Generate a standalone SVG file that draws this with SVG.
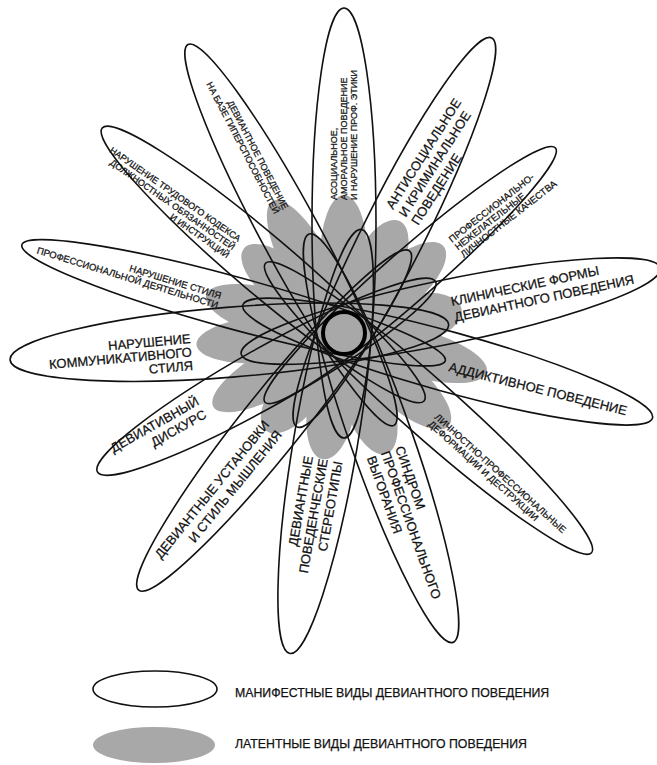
<svg xmlns="http://www.w3.org/2000/svg" width="657" height="765" viewBox="0 0 657 765">
<style>
.bg{fill:#ffffff}
.lat{fill:#a8a8a8;stroke:none}
.man{fill:none;stroke:#111;stroke-width:1.6}
.t{font-family:"Liberation Sans",Arial,sans-serif;fill:#111;stroke:#111;stroke-width:0.25}
.s{font-size:9.5px}
.xs{font-size:9px}
.l{font-size:13px}
.e{text-anchor:end}
</style>
<rect class="bg" x="0" y="0" width="657" height="765"/>
<g id="latent-core" transform="translate(344,333)">
  <circle class="lat" cx="0" cy="0" r="88"/>
  <ellipse class="lat" transform="rotate(-90)" cx="75" cy="0" rx="63" ry="24"/>
  <ellipse class="lat" transform="rotate(-63.4)" cx="75" cy="0" rx="50" ry="24"/>
  <ellipse class="lat" transform="rotate(-41.2)" cx="75" cy="0" rx="57" ry="24"/>
  <ellipse class="lat" transform="rotate(-11.6)" cx="75" cy="0" rx="45" ry="24"/>
  <ellipse class="lat" transform="rotate(15.4)" cx="75" cy="0" rx="73" ry="24"/>
  <ellipse class="lat" transform="rotate(41.6)" cx="75" cy="0" rx="65" ry="24"/>
  <ellipse class="lat" transform="rotate(70.6)" cx="75" cy="0" rx="53" ry="24"/>
  <ellipse class="lat" transform="rotate(99.6)" cx="75" cy="0" rx="53" ry="24"/>
  <ellipse class="lat" transform="rotate(128.6)" cx="75" cy="0" rx="50" ry="24"/>
  <ellipse class="lat" transform="rotate(150.6)" cx="75" cy="0" rx="75" ry="24"/>
  <ellipse class="lat" transform="rotate(175.4)" cx="75" cy="0" rx="73" ry="24"/>
  <ellipse class="lat" transform="rotate(-164.7)" cx="75" cy="0" rx="68" ry="24"/>
  <ellipse class="lat" transform="rotate(-139.7)" cx="75" cy="0" rx="56" ry="24"/>
  <ellipse class="lat" transform="rotate(-118.4)" cx="75" cy="0" rx="75" ry="24"/>
</g>

<g id="p1-asocial">
  <ellipse class="man" transform="translate(344,333) rotate(-90)" cx="110" cy="0" rx="215" ry="32"/>
  <text class="t xs" transform="translate(337,200) rotate(-90)"><tspan x="0" y="0">АСОЦИАЛЬНОЕ,</tspan><tspan x="0" dy="10">АМОРАЛЬНОЕ ПОВЕДЕНИЕ</tspan><tspan x="0" dy="10">И НАРУШЕНИЕ ПРОФ. ЭТИКИ</tspan></text>
</g>
<g id="p2-antisocial">
  <ellipse class="man" transform="translate(344,333) rotate(-63.4)" cx="112.5" cy="0" rx="217.5" ry="31"/>
  <text class="t l" transform="translate(393,210) rotate(-57.5)"><tspan x="0" y="0">АНТИСОЦИАЛЬНОЕ</tspan><tspan x="0" dy="15">И КРИМИНАЛЬНОЕ</tspan><tspan x="0" dy="15">ПОВЕДЕНИЕ</tspan></text>
</g>
<g id="p3-qualities">
  <ellipse class="man" transform="translate(344,333) rotate(-41.2)" cx="88" cy="0" rx="193" ry="25"/>
  <text class="t s" transform="translate(452,243) rotate(-38)"><tspan x="0" y="0">ПРОФЕССИОНАЛЬНО-</tspan><tspan x="0" dy="9.6">НЕЖЕЛАТЕЛЬНЫЕ</tspan><tspan x="0" dy="9.6">ЛИЧНОСТНЫЕ КАЧЕСТВА</tspan></text>
</g>
<g id="p4-clinical">
  <ellipse class="man" transform="translate(344,333) rotate(-11.6)" cx="109" cy="0" rx="214" ry="32"/>
  <text class="t l" transform="translate(452,306) rotate(-12)"><tspan x="0" y="0">КЛИНИЧЕСКИЕ ФОРМЫ</tspan><tspan x="0" dy="16">ДЕВИАНТНОГО ПОВЕДЕНИЯ</tspan></text>
</g>
<g id="p5-addictive">
  <ellipse class="man" transform="translate(344,333) rotate(15.4)" cx="107.5" cy="0" rx="212.5" ry="30"/>
  <text class="t l" transform="translate(448,371) rotate(14)">АДДИКТИВНОЕ ПОВЕДЕНИЕ</text>
</g>
<g id="p6-deformation">
  <ellipse class="man" transform="translate(344,333) rotate(41.6)" cx="113" cy="0" rx="218" ry="28"/>
  <text class="t s" transform="translate(434,418) rotate(42)"><tspan x="0" y="0">ЛИЧНОСТНО-ПРОФЕССИОНАЛЬНЫЕ</tspan><tspan x="0" dy="9.5">ДЕФОРМАЦИИ И ДЕСТРУКЦИИ</tspan></text>
</g>
<g id="p7-burnout">
  <ellipse class="man" transform="translate(344,333) rotate(70.6)" cx="111.5" cy="0" rx="216.5" ry="31"/>
  <text class="t l" transform="translate(395,448) rotate(70.5)"><tspan x="0" y="0">СИНДРОМ</tspan><tspan x="0" dy="15">ПРОФЕССИОНАЛЬНОГО</tspan><tspan x="0" dy="15">ВЫГОРАНИЯ</tspan></text>
</g>
<g id="p8-stereotypes">
  <ellipse class="man" transform="translate(344,333) rotate(99.6)" cx="110" cy="0" rx="215" ry="32"/>
  <text class="t l e" transform="translate(313,457) rotate(-80)"><tspan x="0" y="0">ДЕВИАНТНЫЕ</tspan><tspan x="0" dy="15">ПОВЕДЕНЧЕСКИЕ</tspan><tspan x="0" dy="15">СТЕРЕОТИПЫ</tspan></text>
</g>
<g id="p9-attitudes">
  <ellipse class="man" transform="translate(344,333) rotate(128.6)" cx="112" cy="0" rx="217" ry="30"/>
  <text class="t l e" transform="translate(270,425) rotate(-51)"><tspan x="0" y="0">ДЕВИАНТНЫЕ УСТАНОВКИ</tspan><tspan x="0" dy="16">И СТИЛЬ МЫШЛЕНИЯ</tspan></text>
</g>
<g id="p10-discourse">
  <ellipse class="man" transform="translate(344,333) rotate(150.6)" cx="89" cy="0" rx="194" ry="29"/>
  <text class="t l e" transform="translate(200,404) rotate(-29.5)"><tspan x="0" y="0">ДЕВИАТИВНЫЙ</tspan><tspan x="0" dy="15">ДИСКУРС</tspan></text>
</g>
<g id="p11-communicative">
  <ellipse class="man" transform="translate(344,333) rotate(175.4)" cx="115" cy="0" rx="220" ry="35"/>
  <text class="t l e" transform="translate(191,343) rotate(-5)"><tspan x="0" y="0">НАРУШЕНИЕ</tspan><tspan x="0" dy="13.5">КОММУНИКАТИВНОГО</tspan><tspan x="0" dy="13.5">СТИЛЯ</tspan></text>
</g>
<g id="p12-style">
  <ellipse class="man" transform="translate(344,333) rotate(-164.7)" cx="114.5" cy="0" rx="219.5" ry="26"/>
  <text class="t s e" transform="translate(220,299) rotate(17)"><tspan x="0" y="0">НАРУШЕНИЕ СТИЛЯ</tspan><tspan x="0" dy="10">ПРОФЕССИОНАЛЬНОЙ ДЕЯТЕЛЬНОСТИ</tspan></text>
</g>
<g id="p13-labour">
  <ellipse class="man" transform="translate(344,333) rotate(-139.7)" cx="106" cy="0" rx="211" ry="29"/>
  <text class="t xs e" transform="translate(238,242) rotate(35)"><tspan x="0" y="0">НАРУШЕНИЕ ТРУДОВОГО КОДЕКСА</tspan><tspan x="0" dy="10">ДОЛЖНОСТНЫХ ОБЯЗАННОСТЕЙ</tspan><tspan x="0" dy="10">И ИНСТРУКЦИЙ</tspan></text>
</g>
<g id="p14-hyper">
  <ellipse class="man" transform="translate(344,333) rotate(-118.4)" cx="111.5" cy="0" rx="216.5" ry="29"/>
  <text class="t xs e" transform="translate(283,210) rotate(62.5)"><tspan x="0" y="0">ДЕВИАНТНОЕ ПОВЕДЕНИЕ</tspan><tspan x="0" dy="10">НА БАЗЕ ГИПЕРСПОСОБНОСТЕЙ</tspan></text>
</g>

<g id="center">
  <circle cx="344" cy="333" r="21" fill="#a8a8a8" stroke="#000" stroke-width="4"/>
</g>

<g id="legend">
  <g id="legend-manifest">
    <ellipse class="man" cx="155" cy="689" rx="62" ry="18"/>
    <text class="t" x="235" y="697" font-size="12.3">МАНИФЕСТНЫЕ ВИДЫ ДЕВИАНТНОГО ПОВЕДЕНИЯ</text>
  </g>
  <g id="legend-latent">
    <ellipse class="lat" cx="154" cy="745" rx="61" ry="18"/>
    <text class="t" x="235" y="748" font-size="12.3">ЛАТЕНТНЫЕ ВИДЫ ДЕВИАНТНОГО ПОВЕДЕНИЯ</text>
  </g>
</g>
</svg>
